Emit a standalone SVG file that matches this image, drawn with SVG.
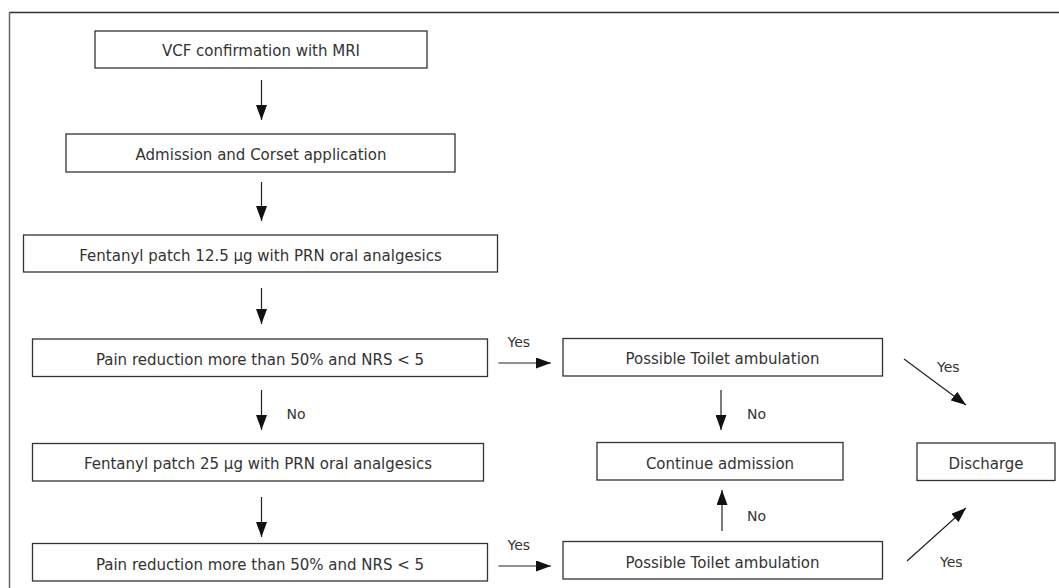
<svg xmlns="http://www.w3.org/2000/svg" width="1059" height="588" viewBox="0 0 1059 588">
<style>
.box{fill:#fff;stroke:#333;stroke-width:1.3}
.t{font-family:"DejaVu Sans","Liberation Sans",sans-serif;font-size:15px;fill:#333;text-anchor:middle}
.l{font-family:"DejaVu Sans","Liberation Sans",sans-serif;font-size:14px;fill:#333}
.c{stroke:#222;stroke-width:1.2;fill:none;marker-end:url(#ah)}
</style>
<defs>
<marker id="ah" viewBox="0 0 15 11" refX="15" refY="5.5" markerWidth="15" markerHeight="11" markerUnits="userSpaceOnUse" orient="auto">
<path d="M0,0 L15,5.5 L0,11 Z" fill="#111"/>
</marker>
</defs>
<rect width="1059" height="588" fill="#fff"/>
<g id="frame">
<line x1="9.5" y1="12.5" x2="1059" y2="12.5" stroke="#333" stroke-width="1.5"/>
<line x1="9.5" y1="12" x2="9.5" y2="588" stroke="#666" stroke-width="1.5"/>
</g>
<g id="n1"><rect class="box" x="95" y="31" width="332" height="37"/><text class="t" x="261" y="56">VCF confirmation with MRI</text></g>
<g id="n2"><rect class="box" x="66" y="134" width="389" height="38"/><text class="t" x="261" y="160">Admission and Corset application</text></g>
<g id="n3"><rect class="box" x="23.5" y="235" width="474" height="37"/><text class="t" x="260.5" y="261">Fentanyl patch 12.5 µg with PRN oral analgesics</text></g>
<g id="n4"><rect class="box" x="32.5" y="339" width="455" height="37.5"/><text class="t" x="260" y="365">Pain reduction more than 50% and NRS &lt; 5</text></g>
<g id="n5"><rect class="box" x="32.5" y="443.5" width="451" height="37.5"/><text class="t" x="258" y="469">Fentanyl patch 25 µg with PRN oral analgesics</text></g>
<g id="n6"><rect class="box" x="32.5" y="543.5" width="455" height="37.5"/><text class="t" x="260" y="569.5">Pain reduction more than 50% and NRS &lt; 5</text></g>
<g id="n7"><rect class="box" x="563" y="338.5" width="319.5" height="37.5"/><text class="t" x="722.5" y="364">Possible Toilet ambulation</text></g>
<g id="n8"><rect class="box" x="597" y="442.5" width="246" height="37.5"/><text class="t" x="720" y="468.5">Continue admission</text></g>
<g id="n9"><rect class="box" x="917" y="443" width="138" height="37.5"/><text class="t" x="986" y="469">Discharge</text></g>
<g id="n10"><rect class="box" x="563" y="541.5" width="319.5" height="37.5"/><text class="t" x="722.5" y="567.5">Possible Toilet ambulation</text></g>
<g id="connectors">
<line class="c" x1="261.5" y1="80" x2="261.5" y2="120"/>
<line class="c" x1="261.5" y1="182" x2="261.5" y2="221"/>
<line class="c" x1="261.5" y1="288" x2="261.5" y2="324"/>
<line class="c" x1="261.5" y1="390" x2="261.5" y2="430"/>
<line class="c" x1="261.5" y1="497" x2="261.5" y2="537"/>
<line class="c" x1="498.5" y1="363" x2="551" y2="363"/>
<line class="c" x1="498.5" y1="566" x2="551" y2="566"/>
<line class="c" x1="721" y1="390" x2="721" y2="430"/>
<line class="c" x1="722" y1="531" x2="722" y2="490"/>
<line class="c" x1="904" y1="359" x2="966" y2="405"/>
<line class="c" x1="907" y1="561" x2="966" y2="508"/>
<text class="l" x="286.5" y="418.5">No</text>
<text class="l" x="507.5" y="347">Yes</text>
<text class="l" x="507.5" y="550">Yes</text>
<text class="l" x="747" y="418.5">No</text>
<text class="l" x="747" y="520.5">No</text>
<text class="l" x="937" y="372">Yes</text>
<text class="l" x="940" y="566.5">Yes</text>
</g>
</svg>
